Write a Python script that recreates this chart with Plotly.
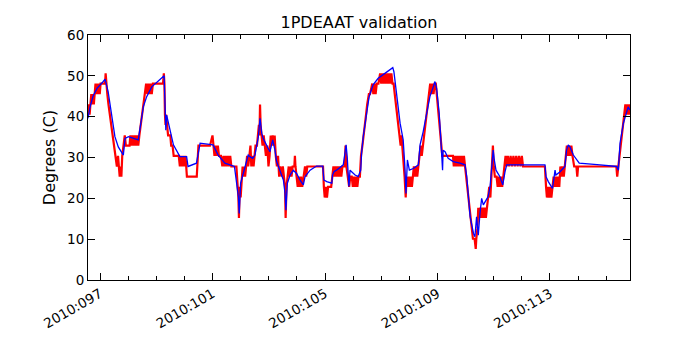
import plotly.graph_objects as go

# model (blue) - day of year 2010, degrees C
model_day = [96.57, 96.65, 96.75, 96.9, 97.1, 97.18, 97.29, 97.41, 97.53, 97.65, 97.83, 97.89,
             98.01, 98.36, 98.42, 98.54, 98.66, 98.84, 99.28, 99.31, 99.34, 99.37, 99.49, 99.61,
             99.84, 100.08, 100.13, 100.43, 100.56, 101.02, 101.2, 101.44, 101.62, 101.78, 101.92,
             101.95, 102.0, 102.1, 102.19, 102.27, 102.33, 102.43, 102.51, 102.63, 102.69, 102.75,
             102.8, 102.92, 103.04, 103.14, 103.22, 103.28, 103.4, 103.52, 103.58, 103.61, 103.66,
             103.76, 103.87, 103.99, 104.11, 104.23, 104.29, 104.47, 104.7, 104.92, 104.96, 105.06,
             105.24, 105.27, 105.32, 105.41, 105.65, 105.71, 105.75, 105.79, 105.83, 105.85, 105.89,
             106.07, 106.18, 106.27, 106.3, 106.36, 106.48, 106.57, 106.71, 106.89, 107.13, 107.31,
             107.41, 107.45, 107.55, 107.67, 107.78, 107.81, 107.84, 107.88, 107.93, 108.0, 108.14,
             108.32, 108.35, 108.38, 108.49, 108.61, 108.73, 108.85, 108.91, 108.97, 109.06, 109.12,
             109.15, 109.18, 109.2, 109.27, 109.38, 109.56, 109.8, 109.98, 110.04, 110.09, 110.16,
             110.28, 110.33, 110.39, 110.45, 110.51, 110.57, 110.63, 110.8, 110.87, 110.92, 110.98,
             111.02, 111.08, 111.22, 111.32, 111.4, 111.46, 111.69, 112.64, 112.82, 112.86, 112.94,
             113.09, 113.18, 113.21, 113.36, 113.53, 113.59, 113.65, 113.71, 113.83, 114.04, 114.78,
             115.37, 115.43, 115.49, 115.61, 115.7, 115.78, 115.84]
model_degc = [39.6, 42.5, 45.0, 47.0, 48.5, 49.2, 46.1, 40.8, 35.1, 32.6, 30.6, 34.7,
              35.1, 34.3, 36.7, 42.4, 44.9, 47.3, 50.0, 43.7, 36.7, 40.4, 36.7, 33.1,
              30.2, 30.2, 27.8, 28.6, 33.5, 33.1, 30.6, 28.6, 28.2, 27.8, 20.4,
              16.3, 23.7, 26.1, 28.2, 30.6, 30.2, 29.8, 30.6, 35.1, 39.6, 35.9,
              34.7, 33.1, 31.4, 34.3, 31.8, 29.0, 26.9, 24.5, 21.2, 17.1, 23.7,
              25.7, 26.9, 26.1, 24.5, 23.3, 25.3, 26.9, 27.9, 27.9, 24.5, 24.1,
              23.7, 25.7, 26.5, 26.9, 28.2, 31.0, 33.1, 30.2, 25.3, 22.9, 26.9,
              25.7, 25.3, 26.9, 31.0, 35.1, 40.8, 44.9, 47.8, 49.4, 50.6, 51.4,
              52.0, 51.0, 44.9, 38.4, 34.3, 31.8, 27.8, 21.2, 29.4, 26.9, 27.3,
              28.2, 31.8, 33.1, 36.3, 40.8, 44.9, 47.3, 48.6, 46.9, 40.8, 34.3,
              29.4, 26.9, 31.8, 31.4, 29.8, 29.0, 28.6, 28.2, 25.3, 21.2, 15.5,
              11.4, 10.6, 15.5, 11.0, 16.3, 20.0, 18.4, 20.4, 22.9, 27.8, 31.8,
              29.4, 26.9, 25.3, 23.3, 26.5, 28.2, 28.2, 28.3, 28.2, 25.3, 24.1,
              22.4, 26.9, 25.7, 26.5, 27.8, 31.8, 33.1, 32.6, 30.6, 28.6, 28.2,
              27.8, 26.9, 33.5, 38.4, 40.8, 42.4, 41.6]

# telemetry (red) - quantized, toggling between adjacent counts
tlm_day = [96.57, 96.6, 96.63, 96.66, 96.69, 96.72, 96.75, 96.78, 96.81, 96.84, 96.87, 96.9,
           96.93, 96.96, 96.99, 97.02, 97.1, 97.18, 97.2, 97.22, 97.26, 97.3, 97.35, 97.41,
           97.46, 97.52, 97.56, 97.6, 97.64, 97.67, 97.7, 97.73, 97.76, 97.79, 97.84, 97.88,
           97.92, 98.05, 98.08, 98.12, 98.16, 98.2, 98.24, 98.28, 98.32, 98.36, 98.4, 98.45,
           98.5, 98.55, 98.6, 98.64, 98.68, 98.72, 98.76, 98.8, 98.84, 98.88, 99.0, 99.24,
           99.27, 99.29, 99.31, 99.33, 99.35, 99.38, 99.42, 99.5, 99.53, 99.58, 99.62, 99.8,
           99.84, 99.88, 99.92, 99.96, 100.0, 100.04, 100.07, 100.09, 100.44, 100.46, 100.5, 100.56,
           100.91, 101.0, 101.03, 101.07, 101.11, 101.15, 101.19, 101.23, 101.3, 101.35, 101.39, 101.43,
           101.47, 101.51, 101.55, 101.59, 101.63, 101.67, 101.85, 101.88, 101.92, 101.94, 101.97, 102.0,
           102.03, 102.07, 102.1, 102.13, 102.16, 102.19, 102.23, 102.27, 102.31, 102.35, 102.38, 102.42,
           102.46, 102.5, 102.53, 102.58, 102.62, 102.65, 102.67, 102.69, 102.71, 102.74, 102.78, 102.82,
           102.86, 102.9, 102.95, 102.99, 103.03, 103.07, 103.11, 103.14, 103.18, 103.21, 103.25, 103.29,
           103.33, 103.37, 103.41, 103.46, 103.5, 103.55, 103.58, 103.6, 103.63, 103.67, 103.71, 103.74,
           103.77, 103.81, 103.85, 103.91, 103.93, 103.95, 103.99, 104.03, 104.07, 104.11, 104.15, 104.19,
           104.24, 104.29, 104.33, 104.37, 104.45, 104.93, 104.96, 104.99, 105.03, 105.07, 105.11, 105.22,
           105.26, 105.3, 105.34, 105.38, 105.42, 105.46, 105.5, 105.54, 105.58, 105.62, 105.7, 105.73,
           105.76, 105.81, 105.86, 105.9, 105.95, 105.99, 106.03, 106.07, 106.11, 106.15, 106.19, 106.24,
           106.28, 106.33, 106.38, 106.42, 106.46, 106.5, 106.56, 106.6, 106.68, 106.72, 106.76, 106.8,
           106.84, 106.9, 106.96, 107.0, 107.04, 107.08, 107.12, 107.16, 107.2, 107.24, 107.28, 107.32,
           107.36, 107.4, 107.44, 107.48, 107.52, 107.56, 107.61, 107.66, 107.69, 107.72, 107.75, 107.79,
           107.83, 107.87, 107.9, 107.93, 107.97, 108.01, 108.05, 108.09, 108.13, 108.16, 108.2, 108.24,
           108.28, 108.32, 108.36, 108.4, 108.44, 108.48, 108.52, 108.56, 108.6, 108.65, 108.7, 108.74,
           108.78, 108.82, 108.86, 108.9, 108.94, 108.97, 109.01, 109.05, 109.08, 109.11, 109.14, 109.17,
           109.2, 109.55, 109.58, 109.62, 109.66, 109.7, 109.74, 109.78, 109.82, 109.86, 109.9, 109.94,
           109.98, 110.02, 110.06, 110.1, 110.14, 110.18, 110.22, 110.26, 110.32, 110.36, 110.38, 110.42,
           110.45, 110.48, 110.52, 110.56, 110.6, 110.64, 110.68, 110.72, 110.76, 110.8, 110.84, 110.88,
           110.91, 110.94, 110.97, 111.0, 111.04, 111.1, 111.14, 111.18, 111.22, 111.26, 111.3, 111.34,
           111.38, 111.42, 111.46, 111.5, 111.55, 111.6, 111.65, 111.7, 111.75, 111.8, 111.85, 111.9,
           111.95, 112.0, 112.04, 112.82, 112.86, 112.89, 112.93, 112.97, 113.01, 113.05, 113.09, 113.13,
           113.17, 113.21, 113.25, 113.29, 113.33, 113.37, 113.41, 113.45, 113.49, 113.53, 113.57, 113.6,
           113.64, 113.68, 113.72, 113.76, 113.8, 113.86, 113.94, 113.97, 114.0, 115.36, 115.39, 115.43,
           115.48, 115.52, 115.56, 115.6, 115.64, 115.68, 115.72, 115.76, 115.8, 115.84, 115.88]
tlm_degc = [40.5, 43.0, 40.5, 43.0, 45.5, 43.0, 45.5, 43.0, 45.5, 48.1, 45.5, 48.1,
            45.5, 48.1, 45.5, 48.1, 48.1, 48.1, 50.6, 48.1, 45.5, 43.0, 40.5, 38.0,
            35.4, 32.9, 30.4, 27.8, 30.4, 27.8, 25.3, 27.8, 25.3, 30.4, 32.9, 35.4,
            32.9, 32.9, 35.4, 32.9, 35.4, 32.9, 35.4, 32.9, 35.4, 32.9, 35.4, 38.0,
            40.5, 43.0, 45.5, 48.1, 45.5, 48.1, 45.5, 48.1, 45.5, 48.1, 48.1, 48.1,
            50.6, 48.1, 40.5, 38.0, 40.5, 38.0, 35.4, 35.4, 32.9, 32.9, 30.4, 30.4,
            27.8, 30.4, 27.8, 30.4, 27.8, 30.4, 27.8, 25.3, 25.3, 27.8, 32.9, 32.9,
            32.9, 35.4, 32.9, 30.4, 32.9, 30.4, 32.9, 30.4, 30.4, 27.8, 30.4, 27.8,
            30.4, 27.8, 30.4, 27.8, 30.4, 27.8, 27.8, 25.3, 20.2, 15.2, 22.8, 20.2,
            25.3, 27.8, 25.3, 27.8, 25.3, 27.8, 30.4, 27.8, 30.4, 32.9, 27.8, 30.4,
            27.8, 30.4, 32.9, 32.9, 35.4, 38.0, 35.4, 43.0, 38.0, 35.4, 32.9, 35.4,
            32.9, 30.4, 32.9, 27.8, 30.4, 35.4, 32.9, 35.4, 32.9, 35.4, 30.4, 27.8,
            30.4, 25.3, 27.8, 25.3, 27.8, 25.3, 22.8, 15.2, 22.8, 25.3, 27.8, 25.3,
            27.8, 25.3, 27.8, 27.8, 30.4, 27.8, 25.3, 22.8, 25.3, 22.8, 25.3, 22.8,
            25.3, 27.8, 25.3, 27.8, 27.8, 27.8, 22.8, 20.2, 22.8, 20.2, 22.8, 22.8,
            25.3, 27.8, 25.3, 27.8, 25.3, 27.8, 25.3, 27.8, 25.3, 27.8, 27.8, 32.9,
            27.8, 25.3, 22.8, 25.3, 25.3, 22.8, 25.3, 22.8, 25.3, 22.8, 25.3, 25.3,
            30.4, 32.9, 35.4, 38.0, 40.5, 43.0, 45.5, 45.5, 48.1, 45.5, 48.1, 45.5,
            48.1, 48.1, 50.6, 48.1, 50.6, 48.1, 50.6, 48.1, 50.6, 48.1, 50.6, 48.1,
            50.6, 48.1, 48.1, 45.5, 43.0, 40.5, 38.0, 35.4, 32.9, 35.4, 32.9, 30.4,
            25.3, 20.2, 25.3, 22.8, 25.3, 22.8, 25.3, 22.8, 25.3, 27.8, 25.3, 27.8,
            25.3, 27.8, 30.4, 32.9, 30.4, 32.9, 35.4, 38.0, 40.5, 43.0, 45.5, 48.1,
            45.5, 48.1, 45.5, 48.1, 48.1, 45.5, 43.0, 40.5, 38.0, 35.4, 32.9, 30.4,
            30.4, 30.4, 27.8, 30.4, 27.8, 30.4, 27.8, 30.4, 27.8, 30.4, 27.8, 30.4,
            27.8, 25.3, 22.8, 20.2, 17.7, 15.2, 12.7, 10.1, 10.1, 7.6, 10.1, 12.7,
            17.7, 15.2, 17.7, 15.2, 17.7, 15.2, 17.7, 15.2, 17.7, 20.2, 22.8, 20.2,
            25.3, 30.4, 32.9, 27.8, 25.3, 25.3, 22.8, 25.3, 22.8, 25.3, 22.8, 25.3,
            27.8, 30.4, 27.8, 30.4, 27.8, 30.4, 27.8, 30.4, 27.8, 30.4, 27.8, 30.4,
            27.8, 30.4, 27.8, 27.8, 22.8, 20.2, 22.8, 20.2, 22.8, 20.2, 22.8, 25.3,
            22.8, 25.3, 22.8, 25.3, 22.8, 27.8, 25.3, 27.8, 25.3, 27.8, 30.4, 32.9,
            30.4, 32.9, 30.4, 32.9, 30.4, 27.8, 27.8, 25.3, 27.8, 27.8, 25.3, 27.8,
            30.4, 32.9, 35.4, 38.0, 40.5, 43.0, 40.5, 43.0, 40.5, 43.0, 40.5]

major_days = [97, 101, 105, 109, 113]
major_labels = ["2010:097", "2010:101", "2010:105", "2010:109", "2010:113"]

# the page body has an 8px margin, so the figure is shrunk to fit the window
fig = go.Figure()
fig.add_trace(go.Scatter(x=tlm_day, y=tlm_degc, mode="lines",
                         line=dict(color="#ff0000", width=2.2), showlegend=False))
fig.add_trace(go.Scatter(x=model_day, y=model_degc, mode="lines",
                         line=dict(color="#0000ff", width=1.3), showlegend=False))

fig.update_layout(
    width=684, height=334,
    margin=dict(l=80, r=62, t=27, b=62),
    paper_bgcolor="white", plot_bgcolor="white",
    font=dict(family="DejaVu Sans", size=13.5, color="black"),
    title=dict(text="1PDEAAT validation", x=(88 + 630) / 2 / 684 - 8 / 684, xref="container",
               xanchor="center", y=1 - 14 / 334, yanchor="middle", font=dict(size=16)),
)
fig.update_xaxes(
    range=[96.573, 115.845], tickmode="array", tickvals=major_days, ticktext=major_labels,
    tickangle=-30, ticks="inside", ticklen=7, tickcolor="black", tickwidth=1,
    showline=True, linecolor="black", linewidth=1, mirror="ticks",
    showgrid=False, zeroline=False,
    minor=dict(tickmode="linear", tick0=97, dtick=1, ticks="inside", ticklen=4,
               tickcolor="black", showgrid=False),
)
fig.update_yaxes(
    range=[0, 60], dtick=10, ticks="inside", ticklen=7, tickcolor="black", tickwidth=1,
    showline=True, linecolor="black", linewidth=1, mirror="ticks",
    showgrid=False, zeroline=False,
    title=dict(text="Degrees (C)", standoff=7),
)

fig.write_html("out.html")
